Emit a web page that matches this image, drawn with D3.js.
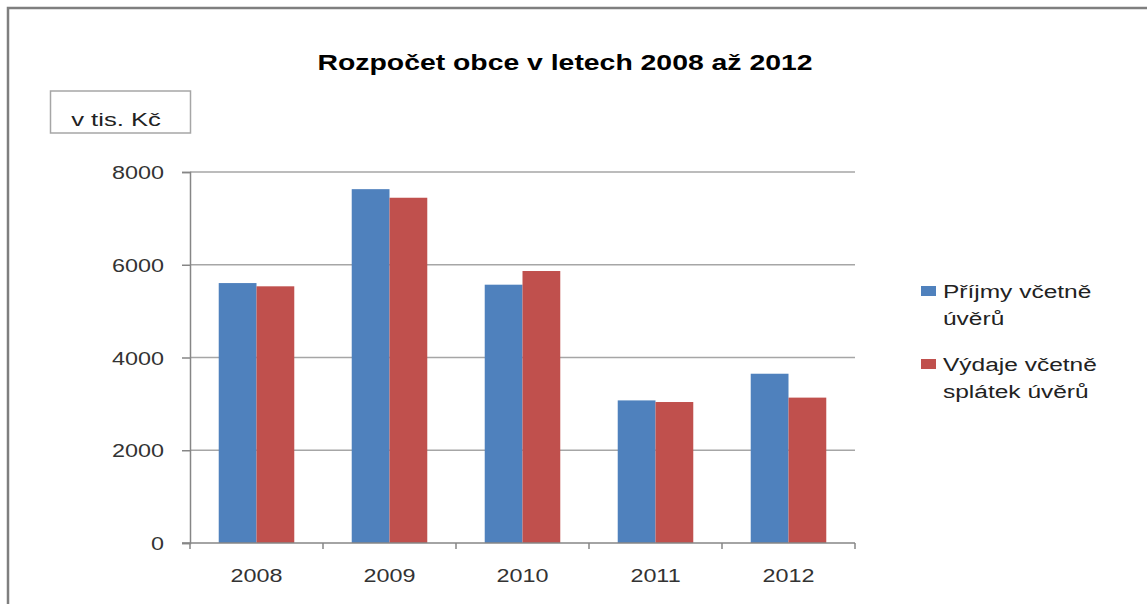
<!DOCTYPE html>
<html>
<head>
<meta charset="utf-8">
<script src="https://cdn.jsdelivr.net/npm/d3@7"></script>
<style>
  html, body { margin: 0; padding: 0; background: #fff; }
  svg { display: block; }
  text { font-family: "Liberation Sans", Arial, sans-serif; }
</style>
</head>
<body>
<svg id="chart" width="1147" height="604"></svg>
<script>
// ---- data ----
const years = ["2008", "2009", "2010", "2011", "2012"];
const seriesNames = ["Příjmy včetně úvěrů", "Výdaje včetně splátek úvěrů"];
const legendLines = [["Příjmy včetně", "úvěrů"], ["Výdaje včetně", "splátek úvěrů"]];
const prijmy = [5605, 7630, 5570, 3075, 3650];
const vydaje = [5535, 7445, 5865, 3040, 3135];
const yTicks = [0, 2000, 4000, 6000, 8000];
const title = "Rozpočet obce v letech 2008 až 2012";
const unitLabel = "v tis. Kč";
const colors = ["#4F81BD", "#C0504D"];

// ---- layout ----
const svg = d3.select("#chart");
const plot = { left: 190, right: 855, top: 172, bottom: 543 };

// outer border
svg.append("rect")
  .attr("x", 8).attr("y", 8).attr("width", 1160).attr("height", 620)
  .attr("fill", "#fff").attr("stroke", "#7f7f7f").attr("stroke-width", 2.5);

const x = d3.scaleBand().domain(years).range([plot.left, plot.right]).padding(0);
const bw = x.bandwidth();
const pad = bw * 0.216;
const x1 = d3.scaleBand().domain([0, 1]).range([pad, bw - pad]).padding(0);
const y = d3.scaleLinear().domain([0, 8000]).range([plot.bottom, plot.top]);

// helper for horizontally stretched text
function stext(g, str, tx, ty, opts) {
  return g.append("text")
    .attr("transform", `translate(${tx},${ty}) scale(${opts.sx || 1.3},1)`)
    .attr("text-anchor", opts.anchor || "start")
    .attr("font-size", opts.size || 18)
    .attr("font-weight", opts.weight || "normal")
    .attr("fill", opts.fill || "#333")
    .text(str);
}

// gridlines
svg.append("g").selectAll("line").data(yTicks.filter(d => d > 0)).join("line")
  .attr("x1", plot.left).attr("x2", plot.right)
  .attr("y1", d => y(d)).attr("y2", d => y(d))
  .attr("stroke", "#a6a6a6").attr("stroke-width", 1.5);

// bars
const data = years.map((yr, i) => ({ yr, vals: [prijmy[i], vydaje[i]] }));
const groups = svg.append("g").selectAll("g").data(data).join("g")
  .attr("transform", d => `translate(${x(d.yr)},0)`);
groups.selectAll("rect").data(d => d.vals.map((v, k) => ({ v, k }))).join("rect")
  .attr("x", d => x1(d.k))
  .attr("width", x1.bandwidth())
  .attr("y", d => y(d.v))
  .attr("height", d => y(0) - y(d.v))
  .attr("fill", d => colors[d.k]);

// y axis
const yAxis = svg.append("g").attr("transform", `translate(${plot.left},0)`)
  .call(d3.axisLeft(y).tickValues(yTicks).tickSize(8).tickFormat(""));
yAxis.select(".domain").attr("stroke", "#868686").attr("stroke-width", 1.5);
yAxis.selectAll(".tick line").attr("stroke", "#868686").attr("stroke-width", 1.5);
const yl = svg.append("g");
yTicks.forEach(v => stext(yl, String(v), 164, y(v) + 7, { anchor: "end", size: 19, sx: 1.23 }));

// x axis
const boundaries = years.map(d => x(d)).concat([x(years[years.length - 1]) + bw]);
const xAxis = svg.append("g");
xAxis.append("line")
  .attr("x1", plot.left - 8).attr("x2", plot.right)
  .attr("y1", y(0)).attr("y2", y(0))
  .attr("stroke", "#868686").attr("stroke-width", 1.5);
xAxis.selectAll("line.tk").data(boundaries).join("line").attr("class", "tk")
  .attr("x1", d => d).attr("x2", d => d)
  .attr("y1", y(0)).attr("y2", y(0) + 6)
  .attr("stroke", "#868686").attr("stroke-width", 1.5);
years.forEach(yr => stext(xAxis, yr, x(yr) + bw / 2, 582, { anchor: "middle", size: 19, sx: 1.23 }));

// title
stext(svg, title, 565, 70, { anchor: "middle", size: 22, weight: "bold", sx: 1.29, fill: "#000" });

// unit box
svg.append("rect").attr("x", 50.5).attr("y", 91).attr("width", 140).attr("height", 42)
  .attr("fill", "#fff").attr("stroke", "#a6a6a6").attr("stroke-width", 1.5);
stext(svg, unitLabel, 116, 125.5, { anchor: "middle", size: 19, sx: 1.35, fill: "#222" });

// legend
const lg = svg.append("g");
const legendTop = [286, 359];
legendLines.forEach((lines, i) => {
  lg.append("rect").attr("x", 921).attr("y", legendTop[i]).attr("width", 15).attr("height", 10)
    .attr("fill", colors[i]);
  lines.forEach((ln, j) => stext(lg, ln, 943, legendTop[i] + 12 + j * 26.5, { size: 19, sx: 1.29, fill: "#222" }));
});
</script>
</body>
</html>
